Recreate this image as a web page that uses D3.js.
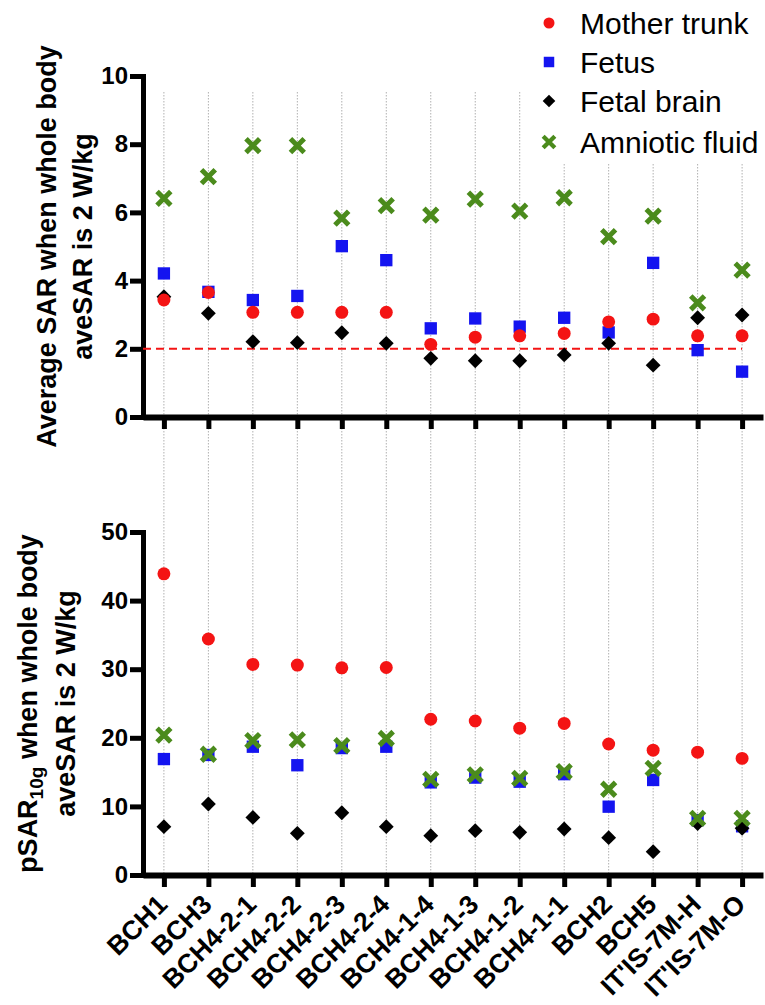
<!DOCTYPE html>
<html>
<head>
<meta charset="utf-8">
<script src="https://cdn.jsdelivr.net/npm/d3@7"></script>
<style>
  body { margin: 0; background: #fff; }
  svg { display: block; font-family: "Liberation Sans", Arial, Helvetica, sans-serif; }
</style>
</head>
<body>
<svg id="chart" width="765" height="1005"></svg>
<script>
// categories (phantom models)
const categories = ["BCH1", "BCH3", "BCH4-2-1", "BCH4-2-2", "BCH4-2-3", "BCH4-2-4", "BCH4-1-4",
  "BCH4-1-3", "BCH4-1-2", "BCH4-1-1", "BCH2", "BCH5", "IT'IS-7M-H", "IT'IS-7M-O"]

// top panel: average SAR (W/kg)
const aveMother = [3.43, 3.65, 3.07, 3.07, 3.07, 3.07, 2.13, 2.34, 2.38, 2.45, 2.79, 2.87, 2.38, 2.38]
const aveFetus  = [4.21, 3.67, 3.43, 3.55, 5.01, 4.60, 2.60, 2.89, 2.65, 2.91, 2.48, 4.52, 1.96, 1.33]
const aveBrain  = [3.53, 3.04, 2.21, 2.18, 2.47, 2.16, 1.72, 1.65, 1.65, 1.82, 2.16, 1.52, 2.91, 2.99]
const aveFluid  = [6.41, 7.05, 7.96, 7.96, 5.83, 6.20, 5.92, 6.39, 6.04, 6.43, 5.29, 5.89, 3.35, 4.31]

// bottom panel: pSAR10g (W/kg)
const pMother = [43.9, 34.4, 30.7, 30.6, 30.2, 30.25, 22.7, 22.45, 21.4, 22.1, 19.1, 18.2, 17.9, 17.0]
const pFetus  = [16.9, 17.5, 18.7, 16.0, 18.5, 18.7, 13.5, 14.2, 13.6, 14.7, 9.96, 13.85, 8.0, 7.1]
const pBrain  = [7.04, 10.35, 8.4, 6.07, 9.08, 7.04, 5.73, 6.46, 6.22, 6.7, 5.44, 3.4, 7.5, 6.8]
const pFluid  = [20.4, 17.6, 19.6, 19.7, 18.85, 19.9, 13.95, 14.6, 14.1, 15.06, 12.5, 15.55, 8.26, 8.26]

const topTicks = [0, 2, 4, 6, 8, 10]
const bottomTicks = [0, 10, 20, 30, 40, 50]
const limitLine = 2

const seriesNames = ["Mother trunk", "Fetus", "Fetal brain", "Amniotic fluid"]

const colors = {
  mother: '#f41414',
  fetus: '#1414f0',
  brain: '#000000',
  fluid: '#4b8b1c'
}

const svg = d3.select('#chart')
const left = 143, right = 763

const x = d3.scalePoint()
  .domain(categories)
  .range([left, right])
  .padding(0.47)

const yTop = d3.scaleLinear().domain([0, 10]).range([417, 76])
const yBot = d3.scaleLinear().domain([0, 50]).range([875, 532])

// marker shapes
const symX = d3.symbolX || d3.symbolTimes
const shapes = {
  mother: { path: d3.symbol(d3.symbolCircle, 132)(), fill: colors.mother, rot: 0 },
  fetus: { path: d3.symbol(d3.symbolSquare, 152)(), fill: colors.fetus, rot: 0 },
  brain: { path: d3.symbol(d3.symbolSquare, 110)(), fill: colors.brain, rot: 45 },
  fluid: { path: d3.symbol(symX, 125)(), stroke: colors.fluid, rot: 0 }
}

// vertical dotted guide lines, from top panel down to the bottom axis
svg.append('g').selectAll('line')
  .data(categories)
  .join('line')
  .attr('x1', d => x(d)).attr('x2', d => x(d))
  .attr('y1', 92).attr('y2', yBot(0))
  .attr('stroke', '#b0b0b0')
  .attr('stroke-width', 1)
  .attr('stroke-dasharray', '1.5,1.5')

// legend background hides the guides under it
svg.append('rect')
  .attr('x', 538).attr('y', 0).attr('width', 227).attr('height', 164)
  .attr('fill', '#fff')

function drawAxes(y, ticks) {
  const ya = svg.append('g')
    .attr('transform', `translate(${left},0)`)
    .call(d3.axisLeft(y).tickValues(ticks).tickSize(13).tickSizeOuter(0).tickPadding(2))
  ya.select('.domain').attr('stroke-width', 5).attr('stroke-linecap', 'square')
  ya.selectAll('.tick line').attr('stroke-width', 5)
  ya.selectAll('.tick text')
    .attr('font-size', 24).attr('font-weight', 'bold')
    .attr('font-family', '"Liberation Sans", Arial, sans-serif')
    .attr('fill', '#000')

  const xa = svg.append('g')
    .attr('transform', `translate(0,${y(0)})`)
    .call(d3.axisBottom(x).tickSize(12).tickSizeOuter(0).tickFormat(''))
  xa.select('.domain').attr('stroke-width', 6)
  xa.selectAll('.tick line').attr('stroke-width', 5)
  return xa
}

function drawSeries(y, values, key) {
  const s = shapes[key]
  svg.append('g').selectAll('path')
    .data(values)
    .join('path')
    .attr('d', s.path)
    .attr('transform', (d, i) => `translate(${x(categories[i])},${y(d)}) rotate(${s.rot})`)
    .attr('fill', s.fill || 'none')
    .attr('stroke', s.stroke || 'none')
    .attr('stroke-width', s.stroke ? 5 : 0)
}

// ---- top panel
drawAxes(yTop, topTicks)
svg.append('line')
  .attr('x1', left).attr('x2', x(categories[categories.length - 1]))
  .attr('y1', yTop(limitLine)).attr('y2', yTop(limitLine))
  .attr('stroke', colors.mother)
  .attr('stroke-width', 2)
  .attr('stroke-dasharray', '8,5')

drawSeries(yTop, aveFetus, 'fetus')
drawSeries(yTop, aveBrain, 'brain')
drawSeries(yTop, aveMother, 'mother')
drawSeries(yTop, aveFluid, 'fluid')

// ---- bottom panel
drawAxes(yBot, bottomTicks)
drawSeries(yBot, pFetus, 'fetus')
drawSeries(yBot, pBrain, 'brain')
drawSeries(yBot, pMother, 'mother')
drawSeries(yBot, pFluid, 'fluid')

// rotated category labels under the bottom axis
svg.append('g').selectAll('text')
  .data(categories)
  .join('text')
  .attr('transform', d => `translate(${x(d) + 5},${yBot(0) + 31}) rotate(-45)`)
  .attr('text-anchor', 'end')
  .attr('font-size', 26.5)
  .attr('font-weight', 'bold')
  .text(d => d)

// y titles
const t1 = svg.append('text')
  .attr('transform', `translate(0,${(yTop(0) + yTop(10)) / 2}) rotate(-90)`)
  .attr('text-anchor', 'middle')
  .attr('font-size', 27)
  .attr('font-weight', 'bold')
t1.append('tspan').attr('x', 0).attr('y', 56).text('Average SAR when whole body')
t1.append('tspan').attr('x', 0).attr('y', 92).text('aveSAR is 2 W/kg')

const t2 = svg.append('text')
  .attr('transform', `translate(0,${(yBot(0) + yBot(50)) / 2}) rotate(-90)`)
  .attr('text-anchor', 'middle')
  .attr('font-size', 27)
  .attr('font-weight', 'bold')
const l1 = t2.append('tspan').attr('x', 0).attr('y', 37)
l1.append('tspan').text('pSAR')
l1.append('tspan').attr('font-size', 19).attr('dy', 6).text('10g')
l1.append('tspan').attr('dy', -6).text(' when whole body')
t2.append('tspan').attr('x', 0).attr('y', 75).text('aveSAR is 2 W/kg')

// legend
const legendKeys = ['mother', 'fetus', 'brain', 'fluid']
const legendY = [23, 62, 101, 142]
const lg = svg.append('g')
legendKeys.forEach((k, i) => {
  const s = shapes[k]
  lg.append('path')
    .attr('d', s.path)
    .attr('transform', `translate(549,${legendY[i]}) rotate(${s.rot}) scale(0.85)`)
    .attr('fill', s.fill || 'none')
    .attr('stroke', s.stroke || 'none')
    .attr('stroke-width', s.stroke ? 5 : 0)
  lg.append('text')
    .attr('x', 580).attr('y', legendY[i] + 10.5)
    .attr('font-size', 30)
    .text(seriesNames[i])
})
</script>
</body>
</html>
